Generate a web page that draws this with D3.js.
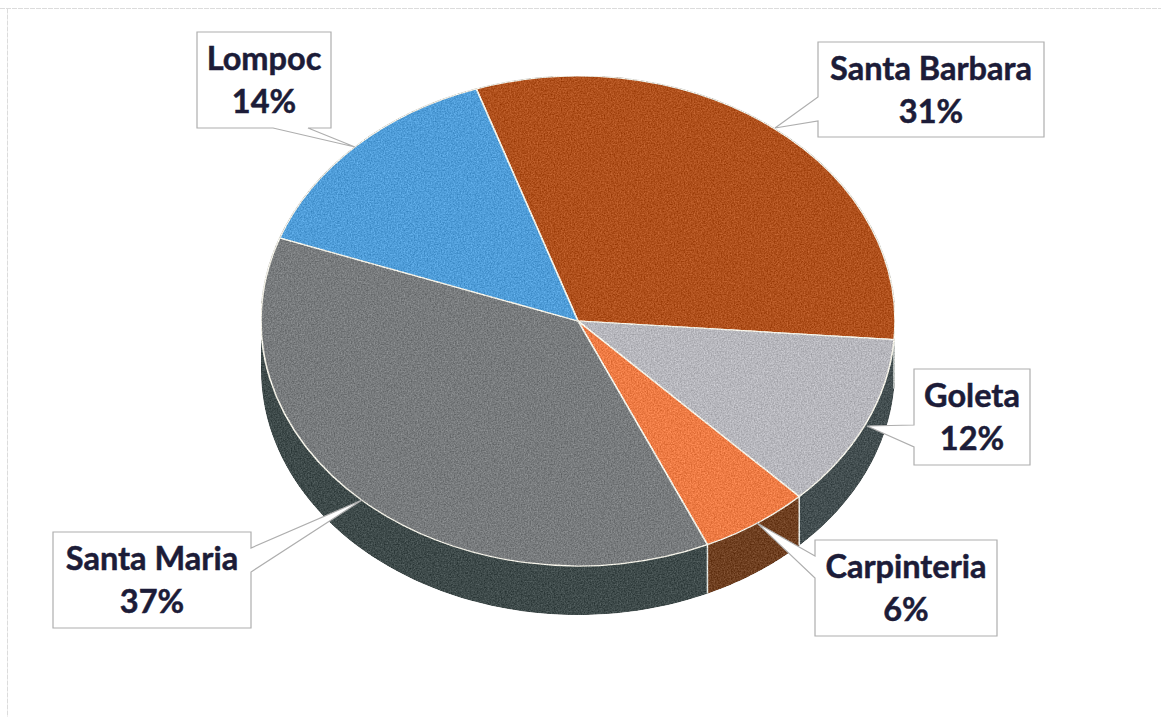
<!DOCTYPE html>
<html>
<head>
<meta charset="utf-8">
<script src="https://cdn.jsdelivr.net/npm/d3@7"></script>
<style>
  html, body { margin: 0; background: #fff; }
  svg { display: block; }
  text { font-family: Lato, sans-serif; font-weight: 700; font-size: 32.5px; fill: #1c1c38; stroke: #1c1c38; stroke-width: 0.5px; text-anchor: middle; }
</style>
</head>
<body>
<svg id="drawing_region"></svg>
<script>
const categories = ["Santa Barbara", "Goleta", "Carpinteria", "Santa Maria", "Lompoc"];
const values = [31.4, 11.5, 5.6, 37.2, 14.3];
const top_colors = ["#b0501c", "#b7b7bd", "#ee7b44", "#787b7d", "#4f9dd9"];
const wall_colors = ["#3d4849", "#434e50", "#6f3f20", "#3e4a4a", "#3e4a4a"];

// callout boxes: x, y, w, h, tip point and the two points where the tail leaves the box
const callouts = [
    {x:818, y:42,  w:226, h:95, tip:[775,128], side:'left',   a:97,  b:121},
    {x:914, y:369, w:116, h:96, tip:[867,426], side:'left',   a:425, b:447},
    {x:815, y:540, w:182, h:96, tip:[757,523], side:'left',   a:556, b:578},
    {x:53,  y:532, w:198, h:96, tip:[362,500], side:'right',  a:548, b:572},
    {x:197, y:32,  w:134, h:96, tip:[355,147], side:'bottom', a:273, b:308}
];

const width = 1161, height = 717;
const cx = 578, cy = 321, rx = 317, ry = 245, depth = 49;

const svg = d3.select('#drawing_region')
    .attr('width', width)
    .attr('height', height);

// scanner grain on the coloured areas
const grain = svg.append('defs').append('filter')
    .attr('id', 'grain')
    .attr('x', 0).attr('y', 0).attr('width', 1).attr('height', 1)
    .attr('color-interpolation-filters', 'sRGB');
grain.append('feTurbulence')
    .attr('type', 'fractalNoise')
    .attr('baseFrequency', 0.7)
    .attr('numOctaves', 2)
    .attr('seed', 4)
    .attr('result', 'noise');
grain.append('feColorMatrix')
    .attr('in', 'noise')
    .attr('type', 'matrix')
    .attr('values', '1 0 0 0 0  1 0 0 0 0  1 0 0 0 0  0 0 0 0 1')
    .attr('result', 'mono');
grain.append('feComposite')
    .attr('in', 'SourceGraphic')
    .attr('in2', 'mono')
    .attr('operator', 'arithmetic')
    .attr('k1', 0).attr('k2', 1).attr('k3', 0.3).attr('k4', -0.15)
    .attr('result', 'mixed');
grain.append('feComposite')
    .attr('in', 'mixed')
    .attr('in2', 'SourceGraphic')
    .attr('operator', 'in');

// faint edge of the scanned page
svg.append('path')
    .attr('d', 'M0,8.5H1161M7.5,8.5V717')
    .attr('fill', 'none')
    .attr('stroke', '#dcdcdc')
    .attr('stroke-dasharray', '5 1');

const pie = d3.pie()
    .sort(null)
    .startAngle(-18.7 * Math.PI / 180)
    .endAngle((360 - 18.7) * Math.PI / 180);
const arcs = pie(values);

// a point on the rim of the tilted pie
const rim = (a, dy) => [cx + rx * Math.sin(a), cy - ry * Math.cos(a) + dy];

const chart = svg.append('g')
    .attr('filter', 'url(#grain)');

// front walls, only the part between 90 and 270 degrees can be seen
arcs.forEach((d, i) => {
    const a0 = Math.max(d.startAngle, Math.PI / 2);
    const a1 = Math.min(d.endAngle, Math.PI * 3 / 2);
    if (a1 <= a0) return;
    const steps = d3.range(0, 61).map(k => a0 + (a1 - a0) * k / 60);
    const pts = steps.map(a => rim(a, 0)).concat(steps.slice().reverse().map(a => rim(a, depth)));
    chart.append('path')
        .attr('d', d3.line()(pts) + 'Z')
        .attr('fill', wall_colors[i]);
});

// white seams between walls
arcs.forEach(d => {
    if (d.startAngle <= Math.PI / 2 || d.startAngle >= Math.PI * 3 / 2) return;
    const p0 = rim(d.startAngle, 0), p1 = rim(d.startAngle, depth);
    chart.append('line')
        .attr('x1', p0[0]).attr('y1', p0[1])
        .attr('x2', p1[0]).attr('y2', p1[1])
        .attr('stroke', '#e4e8e4')
        .attr('stroke-width', 1.5);
});

// top of the pie, a circle squashed into an ellipse
const arc = d3.arc().innerRadius(0).outerRadius(rx);
chart.append('g')
    .attr('transform', `translate(${cx},${cy}) scale(1,${ry / rx})`)
    .selectAll('path')
    .data(arcs)
    .join('path')
    .attr('d', arc)
    .attr('fill', (d, i) => top_colors[i])
    .attr('stroke', '#f4f2e8')
    .attr('stroke-width', 1.6);

// callouts
const callout_path = c => {
    const x1 = c.x + c.w, y1 = c.y + c.h;
    const t = `${c.tip[0]},${c.tip[1]}`;
    if (c.side === 'left')
        return `M${c.x},${c.y}H${x1}V${y1}H${c.x}V${c.b}L${t}L${c.x},${c.a}Z`;
    if (c.side === 'right')
        return `M${c.x},${c.y}H${x1}V${c.a}L${t}L${x1},${c.b}V${y1}H${c.x}Z`;
    return `M${c.x},${c.y}H${x1}V${y1}H${c.b}L${t}L${c.a},${y1}H${c.x}Z`;
};

const labels = svg.append('g')
    .selectAll('g')
    .data(callouts)
    .join('g');

labels.append('path')
    .attr('d', callout_path)
    .attr('fill', '#fff')
    .attr('stroke', '#aeaeae')
    .attr('stroke-width', 1.2);

labels.append('text')
    .attr('x', c => c.x + c.w / 2)
    .attr('y', c => c.y + 38)
    .text((c, i) => categories[i]);

labels.append('text')
    .attr('x', c => c.x + c.w / 2)
    .attr('y', c => c.y + 81)
    .text((c, i) => Math.round(values[i]) + '%');
</script>
</body>
</html>
